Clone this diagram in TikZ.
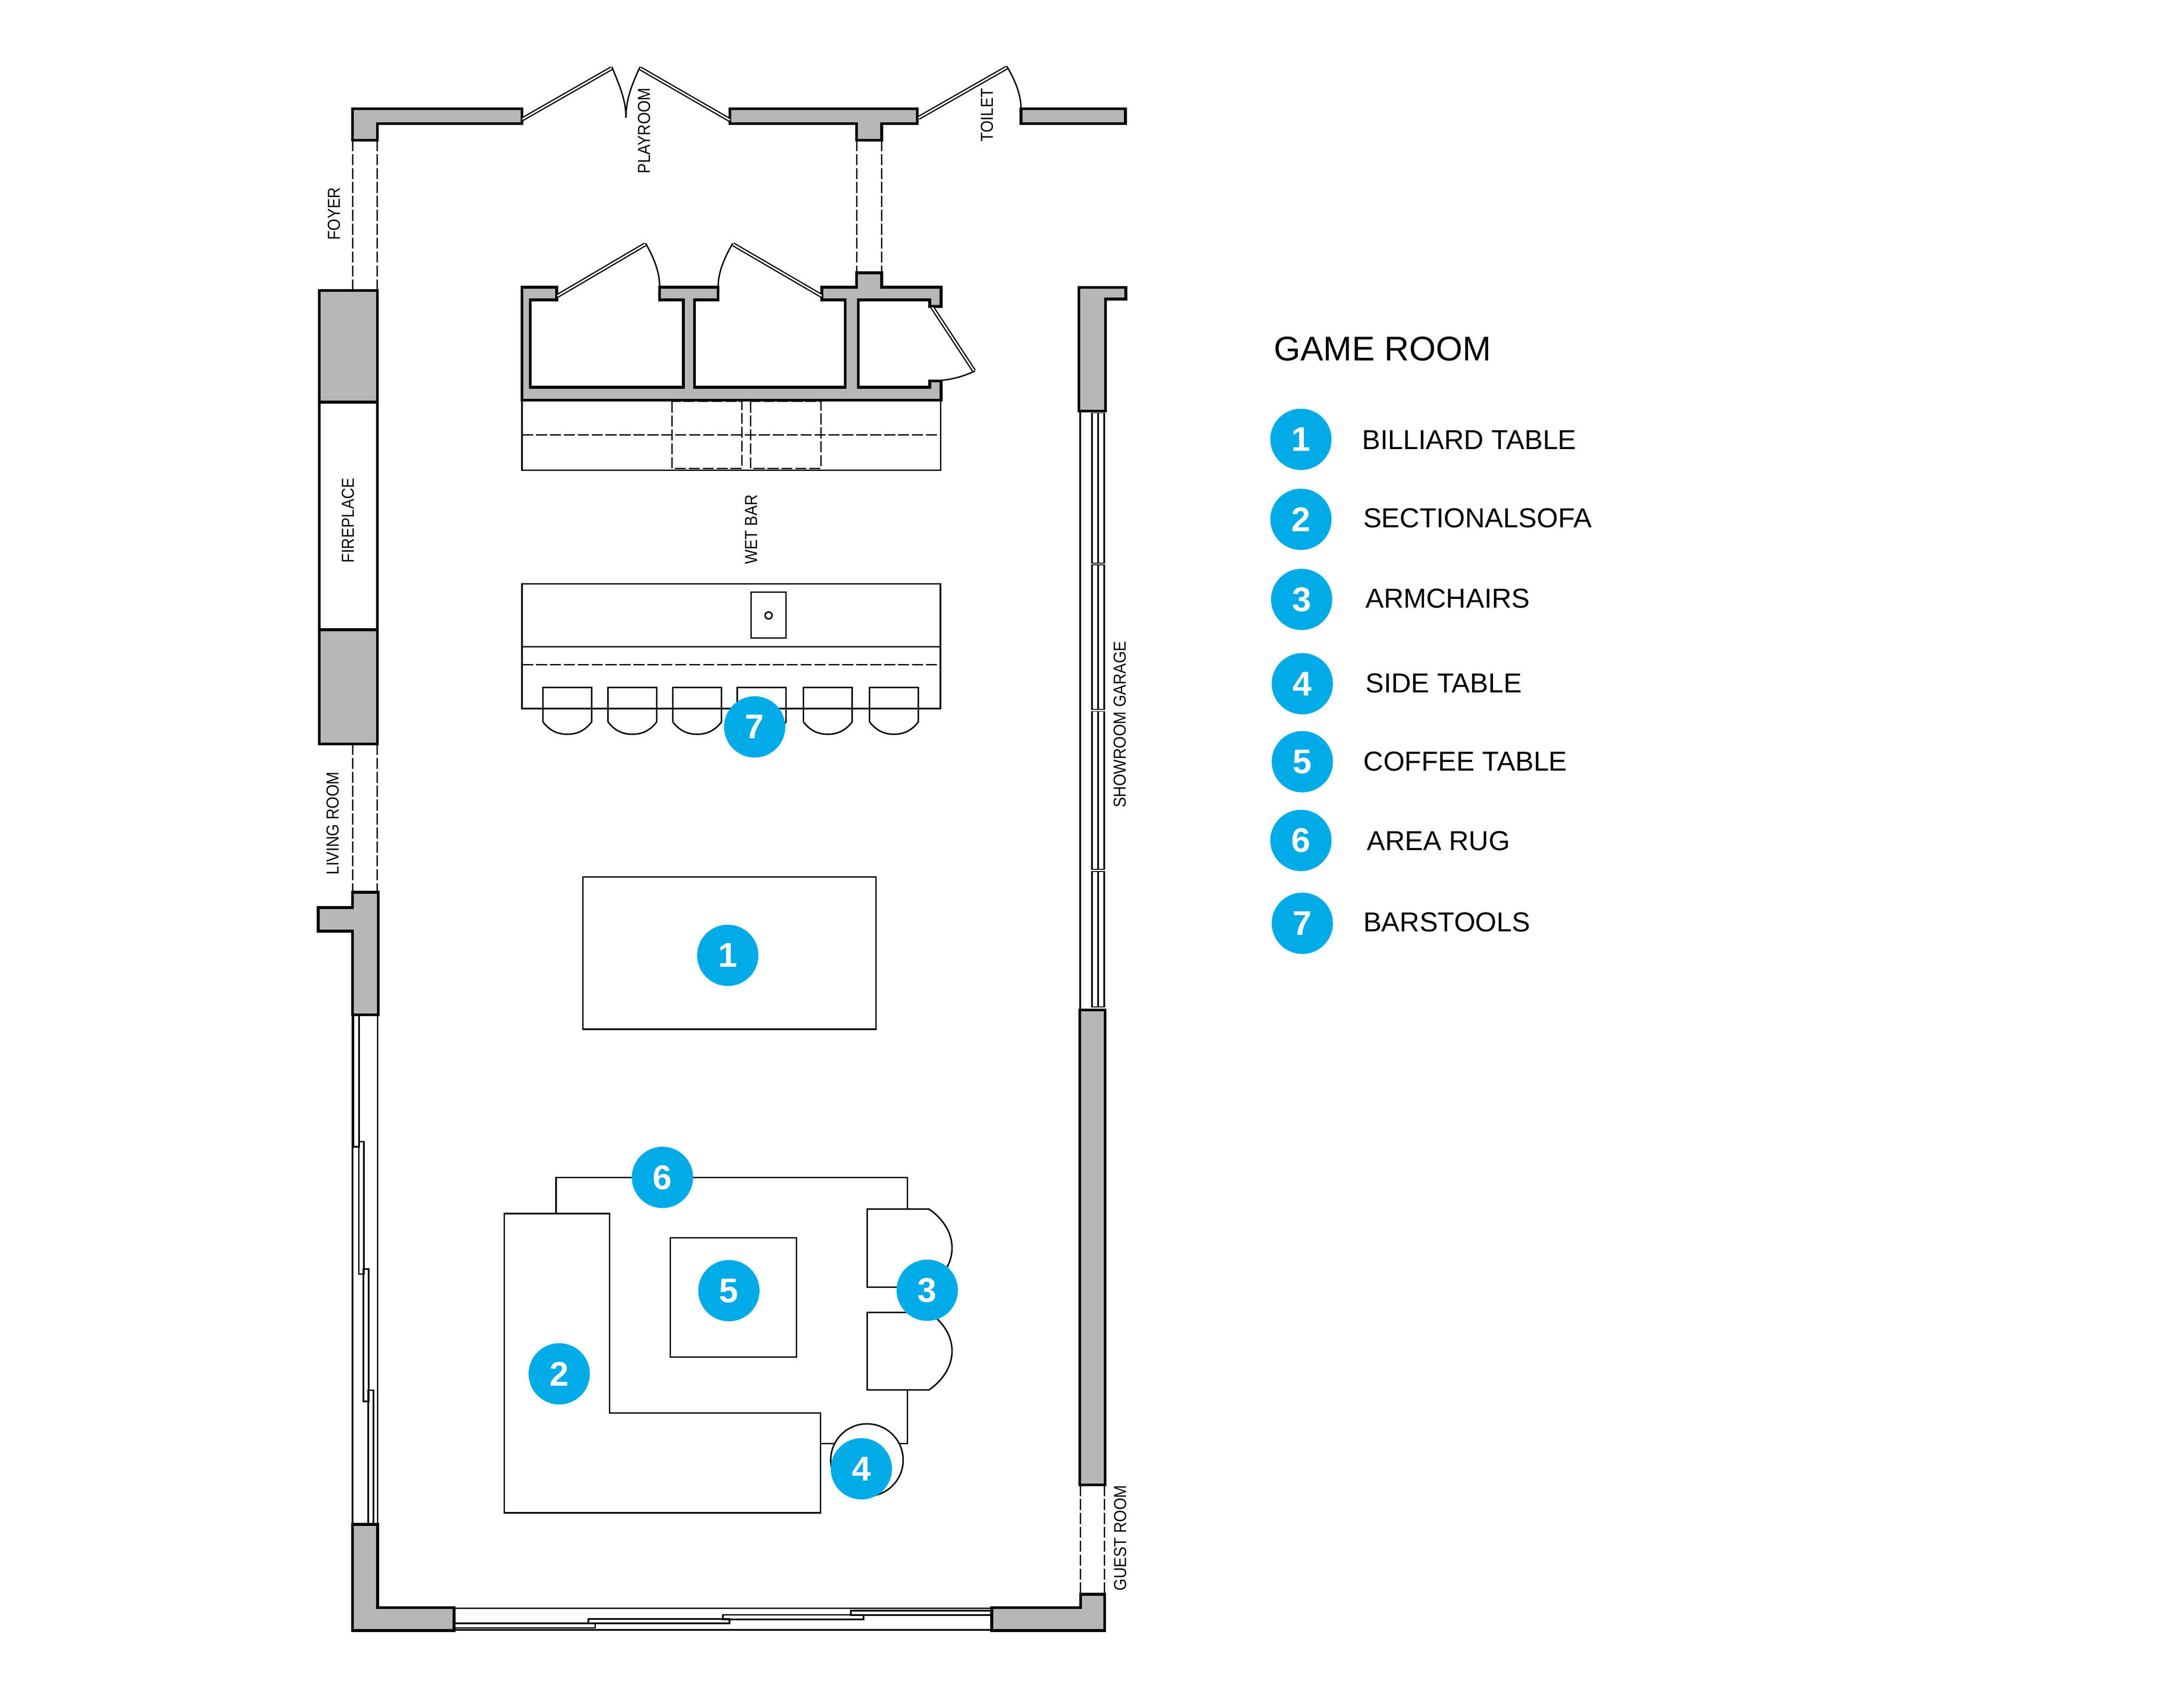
\documentclass[tikz,border=0pt]{standalone}
\usepackage{fontspec}
\setmainfont{Liberation Sans}
\definecolor{wallgray}{HTML}{B7B7B7}
\definecolor{badgeblue}{HTML}{00ABE7}
\newcommand{\vlabel}[2]{\scalebox{#1}[1]{#2}}
\tikzset{
  wall/.style={draw=black,fill=wallgray,line width=.04cm,line join=miter},
  thin line/.style={draw=black,line width=.021cm},
  slider/.style={draw=black,line width=.024cm},
  dash line/.style={draw=black,line width=.018cm,dash pattern=on .16cm off .04cm},
  door leaf/.style={draw=black,line width=.018cm,double=white,double distance=.022cm},
  swing/.style={draw=black,line width=.02cm},
  badge/.style={circle,fill=badgeblue,text=white,minimum size=.88cm,inner sep=0pt,font=\fontsize{14}{14}\selectfont\bfseries},
  legend text/.style={anchor=base west,inner sep=0pt,font=\fontsize{11.2}{11.2}\selectfont},
  title text/.style={anchor=base west,inner sep=0pt,font=\fontsize{14}{14}\selectfont},
  room label/.style={rotate=90,anchor=base,inner sep=0pt,font=\fontsize{7.1}{7.1}\selectfont},
  shift one/.style={yshift=-.016cm}
}
\begin{document}
\begin{tikzpicture}[x=.02cm,y=-.02cm]
\useasboundingbox (0,0) rectangle (1568,1211.6);
\fill[white] (0,0) rectangle (1568,1211.6);

% dashed openings
\draw[dash line] (253.1,100.6) -- (253.1,208.5);
\draw[dash line] (270.9,100.6) -- (270.9,208.5);
\draw[dash line] (615,100.6) -- (615,195.6);
\draw[dash line] (633,100.6) -- (633,195.6);
\draw[dash line] (253.1,534) -- (253.1,640);
\draw[dash line] (270.9,534) -- (270.9,640);
\draw[dash line] (775.8,1066) -- (775.8,1144);
\draw[dash line] (793,1066) -- (793,1144);

% top wall
\draw[wall] (253.1,78) -- (374.7,78) -- (374.7,88.8) -- (270.9,88.8) -- (270.9,100.6) -- (253.1,100.6) -- cycle;
\draw[wall] (524,78) -- (658.6,78) -- (658.6,88.8) -- (633,88.8) -- (633,100.6) -- (615,100.6) -- (615,88.8) -- (524,88.8) -- cycle;
\draw[wall] (733,78) -- (808,78) -- (808,88.8) -- (733,88.8) -- cycle;

% top doors
\draw[door leaf] (375,85.6) -- (439,49);
\draw[swing] (439.3,48) .. controls (445,62) and (449.4,72) .. (449.4,84.5);
\draw[door leaf] (524,86.2) -- (459.5,49);
\draw[swing] (459.5,48) .. controls (453,62) and (449.4,72) .. (449.4,84.5);
\draw[door leaf] (659.4,84.7) -- (722.8,48.5);
\draw[swing] (722.8,47.5) .. controls (729,58) and (733,68) .. (733,77.8);

% fireplace
\draw[wall] (229.3,208.5) rectangle (270.9,288.7);
\draw[wall,fill=white] (229.3,288.7) rectangle (270.9,452);
\draw[wall] (229.3,452) rectangle (270.9,534);

% left wall, lower
\draw[wall] (253.1,640.5) -- (271.5,640.5) -- (271.5,728.5) -- (253.1,728.5) -- (253.1,668.4) -- (228.5,668.4) -- (228.5,651.5) -- (253.1,651.5) -- cycle;

% left sliding door
\draw[slider] (253.1,728.5) -- (253.1,1094.3);
\draw[slider] (271.1,728.5) -- (271.1,1094.3);
\draw[slider] (253.8,728.5) rectangle (257.8,823.3);
\draw[slider] (257.6,819.6) rectangle (261.3,914.6);
\draw[slider] (261,911) rectangle (264.7,1006);
\draw[slider] (264.3,998) rectangle (268,1094.3);

% bottom sliding door
\draw[slider] (326,1154.5) -- (712,1154.5);
\draw[slider] (326,1170) -- (712,1170);
\draw[slider] (611,1156.2) rectangle (712,1159.4);
\draw[slider] (519,1159.2) rectangle (620,1162.4);
\draw[slider] (422.5,1162.2) rectangle (523.7,1165.4);
\draw[slider] (326,1165.4) rectangle (427.3,1168.6);

% bottom walls
\draw[wall] (253.1,1094.3) -- (271.1,1094.3) -- (271.1,1154) -- (326,1154) -- (326,1170.5) -- (253.1,1170.5) -- cycle;
\draw[wall] (712,1154) -- (775.8,1154) -- (775.8,1144.5) -- (793,1144.5) -- (793,1170.5) -- (712,1170.5) -- cycle;

% right wall
\draw[slider,line width=.026cm] (775.5,294.7) -- (775.5,725);
\draw[slider] (784,294.7) -- (784,725);
\draw[slider,line width=.026cm] (788.3,294.7) -- (788.3,725);
\draw[slider] (792.8,294.7) -- (792.8,725);
\foreach \ty in {295.8,404.8,510,624.8,723.6}{
  \draw[draw=black,line width=.012cm,double=white,double distance=.016cm] (783.5,\ty) -- (793.5,\ty);
}
\draw[wall] (774.5,206.4) -- (808.3,206.4) -- (808.3,214.6) -- (793.8,214.6) -- (793.8,295) -- (774.5,295) -- cycle;
\draw[wall] (775.2,725) rectangle (793.4,1066);

% bar counter behind the wet bar room
\draw[thin line] (374.8,287.2) rectangle (675.4,337.6);
\draw[dash line] (374.8,312.2) -- (675.4,312.2);
\draw[dash line] (482.5,288.2) rectangle (532.6,336.2);
\draw[dash line] (539,288.2) rectangle (589.5,336.2);

% wet bar room
\draw[wall] (374.7,206.2) -- (399.7,206.2) -- (399.7,215.3) -- (380.7,215.3) -- (380.7,278) -- (490.6,278) -- (490.6,215.3) -- (473.6,215.3) -- (473.6,206.2) -- (515.6,206.2) -- (515.6,215.3) -- (498.7,215.3) -- (498.7,278) -- (606.9,278) -- (606.9,215.3) -- (590,215.3) -- (590,206.2) -- (615,206.2) -- (615,195.8) -- (633,195.8) -- (633,206.2) -- (675.6,206.2) -- (675.6,220) -- (667.5,220) -- (667.5,215.3) -- (616.2,215.3) -- (616.2,278) -- (667.5,278) -- (667.5,273.4) -- (675.6,273.4) -- (675.6,287.2) -- (374.7,287.2) -- cycle;
\draw[door leaf] (400.1,212.5) -- (463.2,175.4);
\draw[swing] (463.5,174.6) .. controls (470,186) and (473.6,196) .. (473.6,205.7);
\draw[swing] (526.1,174.6) .. controls (519.5,186) and (515.6,196) .. (515.6,205.7);
\draw[door leaf] (526.4,175.4) -- (590,212.5);
\draw[door leaf] (669.3,220.6) -- (699.3,266.2);
\draw[swing] (700,266.3) .. controls (690,271) and (680,273.4) .. (667.5,273.4);

\begin{scope}[shift one]
% island
\draw[thin line] (374.8,418.4) rectangle (675.2,507.8);
\draw[thin line] (374.8,463.4) -- (675.2,463.4);
\draw[dash line] (374.8,476.3) -- (675.2,476.3);
\draw[thin line] (539.3,424.2) rectangle (564.3,457.3);
\draw[thin line] (551.8,441) circle[radius=2.5];
\foreach \sx in {389.8,436.5,483,529.3,576.8,624.3}{
  \draw[thin line] (\sx,517.4) -- (\sx,492.7) -- (\sx+35,492.7) -- (\sx+35,517.4) .. controls (\sx+30,524) and (\sx+24,526.3) .. (\sx+17.5,526.3) .. controls (\sx+11,526.3) and (\sx+5,524) .. (\sx,517.4);
}

% billiard table
\draw[thin line] (418.4,628.8) rectangle (629,738);

% rug
\draw[thin line] (399.2,870.4) -- (399.2,844.4) -- (651.4,844.4) -- (651.4,1035.4) -- (589.1,1035.4);

% sofa
\draw[thin line,fill=white] (362,870.4) -- (437.7,870.4) -- (437.7,1013.6) -- (589.1,1013.6) -- (589.1,1085.2) -- (362,1085.2) -- cycle;

% coffee table
\draw[thin line] (481.3,887.7) rectangle (571.8,973.4);

% armchairs
\draw[thin line,fill=white] (622.6,867.1) -- (666.9,867.1) .. controls (677,874) and (683.5,884) .. (683.5,895.1) .. controls (683.5,906) and (677,916) .. (666.9,923.2) -- (622.6,923.2) -- cycle;
\draw[thin line,fill=white] (622.6,941.3) -- (666.9,941.3) .. controls (677,948) and (683.5,958) .. (683.5,969.1) .. controls (683.5,980) and (677,990) .. (666.9,997) -- (622.6,997) -- cycle;

% side table
\draw[thin line,fill=white] (622.4,1047.3) circle[radius=26];

% plan badges
\node[badge] (m1) at (522.5,685) {1};
\node[badge] (m2) at (401.5,985.4) {2};
\node[badge] (m3) at (665.7,925.4) {3};
\node[badge] (m4) at (618.4,1053.6) {4};
\node[badge] (m5) at (523.3,925.7) {5};
\node[badge] (m6) at (475.6,844.4) {6};
\node[badge] (m7) at (541.8,521) {7};

% legend markers and text
\node[badge] (k1) at (934,314.6) {1};
\node[badge] (k2) at (934,372) {2};
\node[badge] (k3) at (934.5,429.5) {3};
\node[badge] (k4) at (935,490) {4};
\node[badge] (k5) at (935,546) {5};
\node[badge] (k6) at (934,602.5) {6};
\node[badge] (k7) at (935,662) {7};
\node[legend text] (t1) at (977.5,321.8) {BILLIARD TABLE};
\node[legend text] (t2) at (978.4,378) {SECTIONALSOFA};
\node[legend text] (t3) at (980,435.5) {ARMCHAIRS};
\node[legend text] (t4) at (980,496.5) {SIDE TABLE};
\node[legend text] (t5) at (978.6,552.5) {COFFEE TABLE};
\node[legend text] (t6) at (981,609.5) {AREA RUG};
\node[legend text] (t7) at (978.4,668) {BARSTOOLS};
\end{scope}

% room labels
\node[room label] (foyer) at (244.2,153.4) {\vlabel{.88}{FOYER}};
\node[room label] (playroom) at (466.8,93.8) {\vlabel{.88}{PLAYROOM}};
\node[room label] (toilet) at (713,82.5) {\vlabel{.88}{TOILET}};
\node[room label] (fireplace) at (254.2,373.5) {\vlabel{.88}{FIREPLACE}};
\node[room label] (living) at (243.2,591) {\vlabel{.89}{LIVING ROOM}};
\node[room label] (wetbar) at (543.6,380) {\vlabel{.88}{WET BAR}};
\node[room label] (showroom) at (808.3,520) {\vlabel{.89}{SHOWROOM GARAGE}};
\node[room label] (guest) at (808.6,1104) {\vlabel{.89}{GUEST ROOM}};

% title
\node[title text] (title) at (914.3,258.9) {GAME ROOM};
\end{tikzpicture}
\end{document}
